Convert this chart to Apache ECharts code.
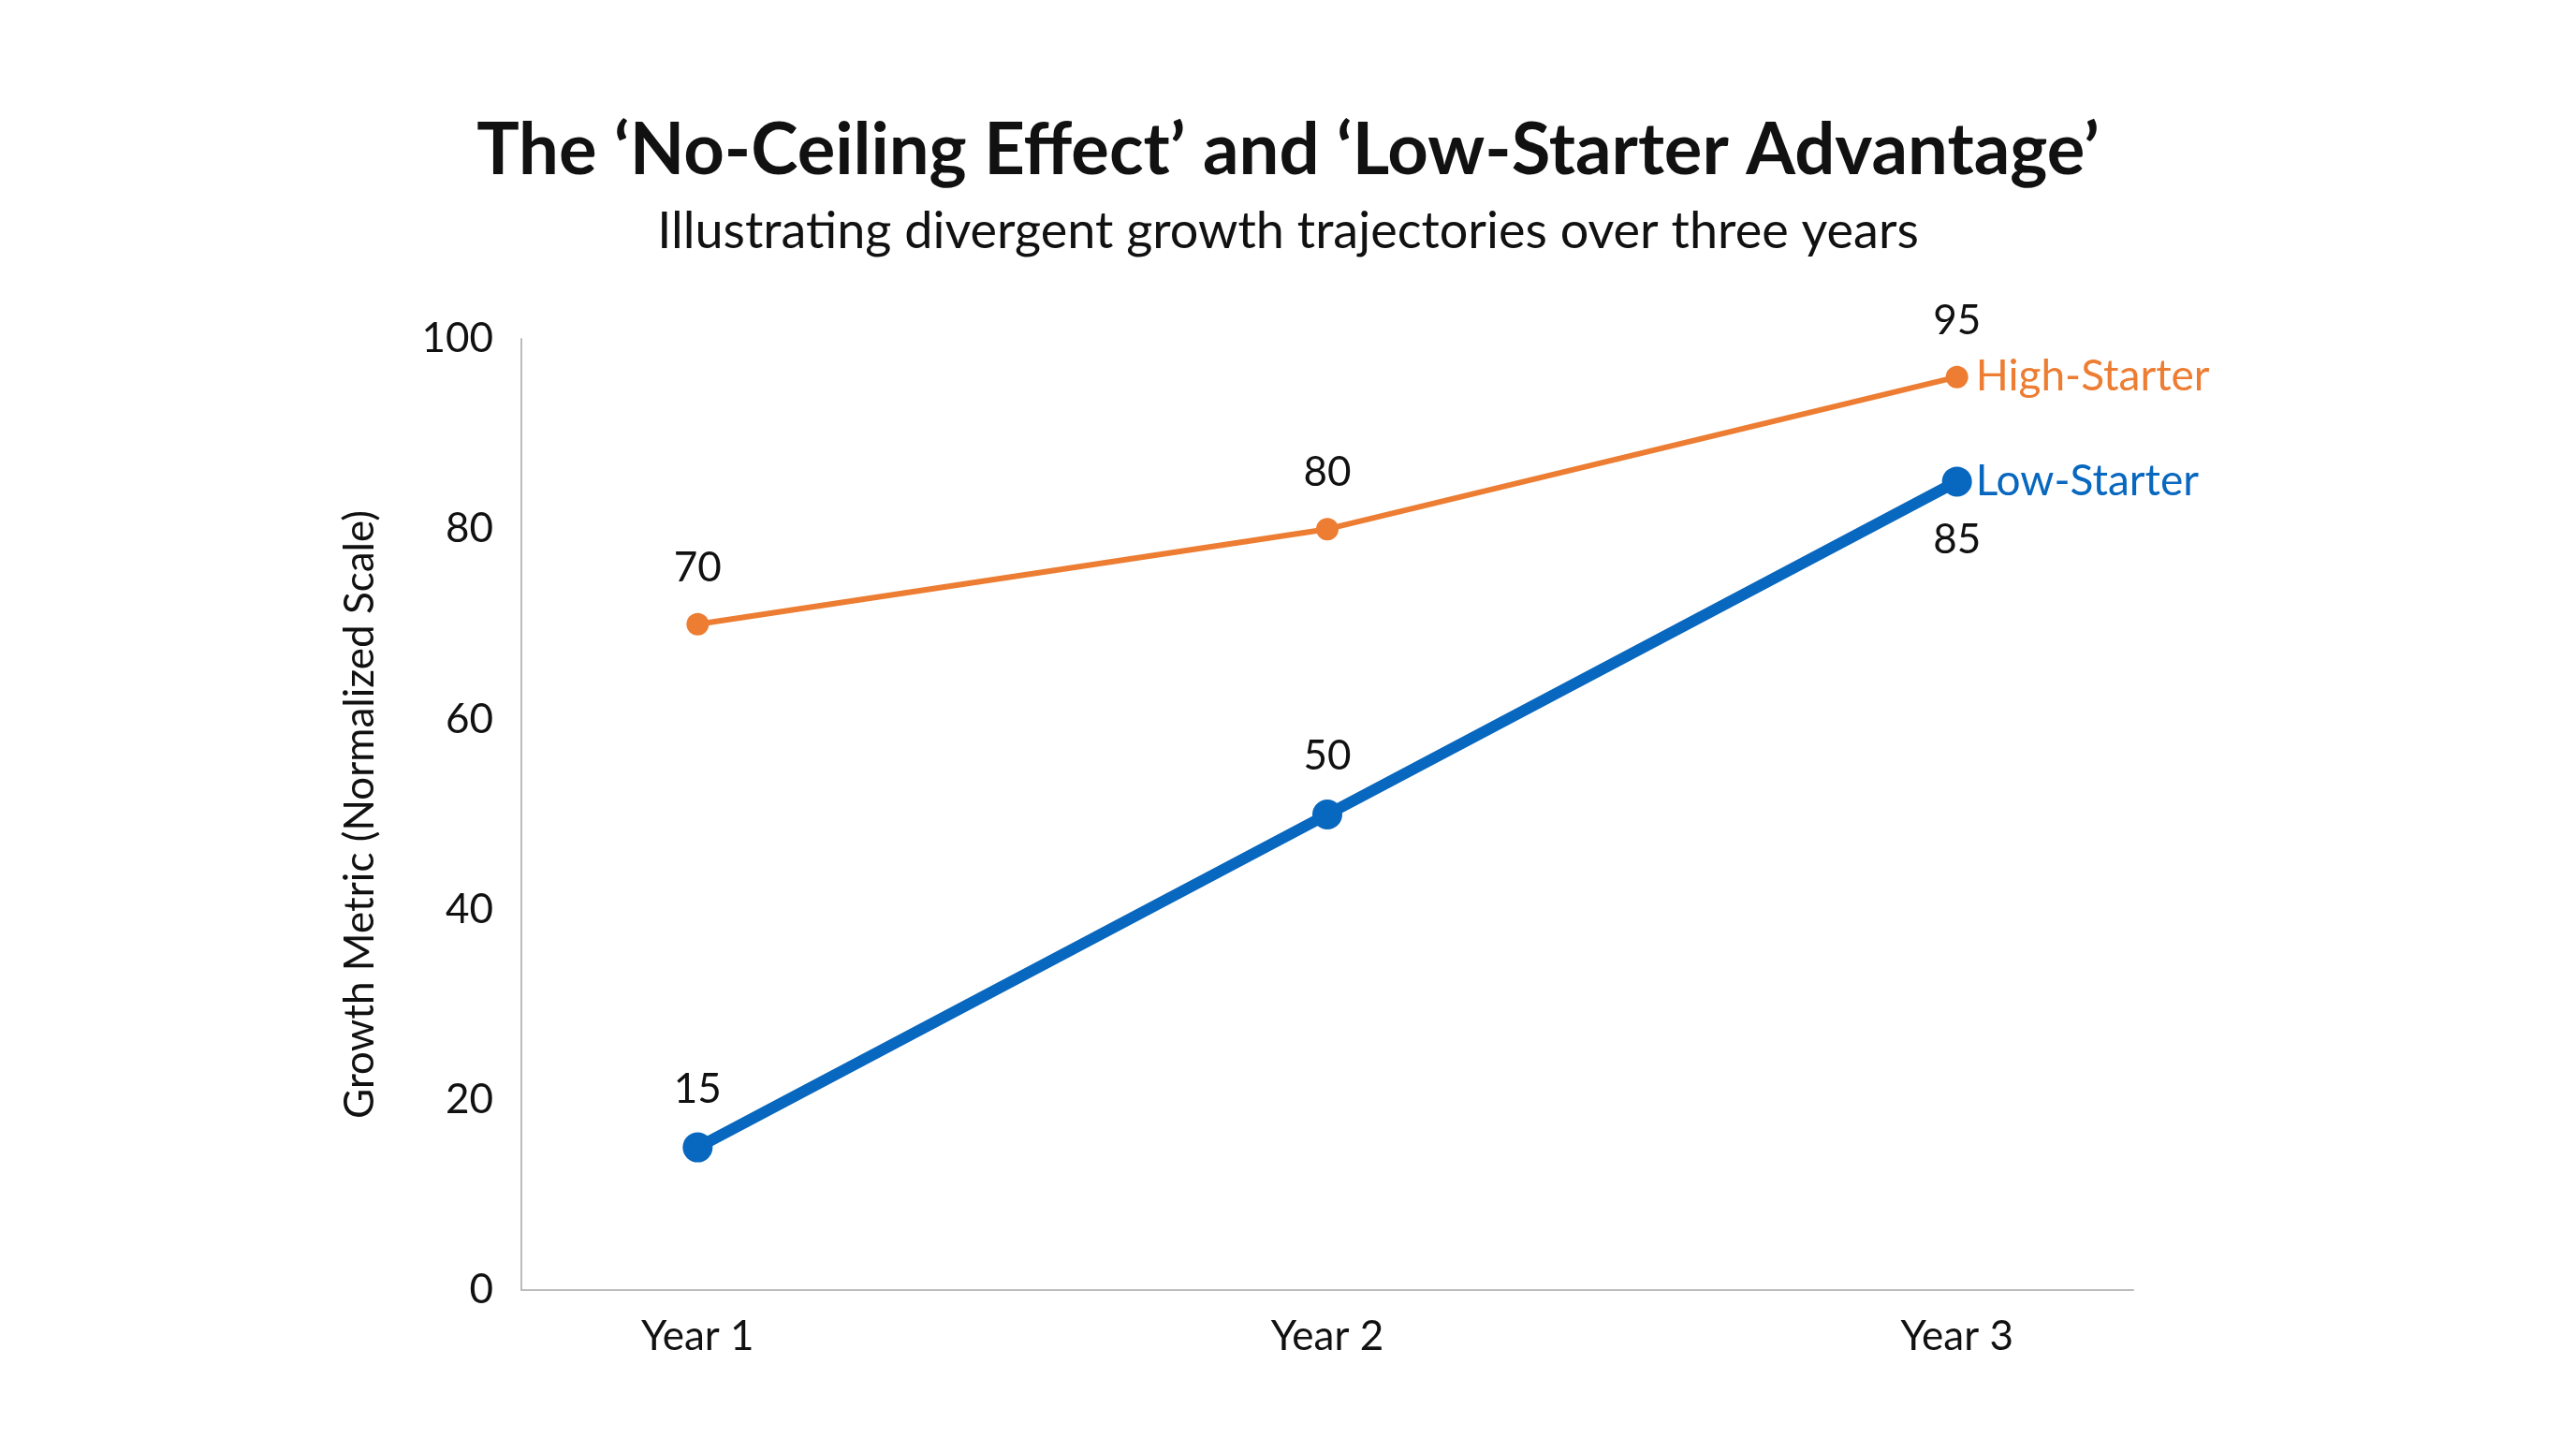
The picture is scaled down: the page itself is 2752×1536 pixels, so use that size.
<!DOCTYPE html>
<html><head><meta charset="utf-8">
<script src="https://cdn.jsdelivr.net/npm/echarts@6/dist/echarts.min.js"></script>
<style>html,body{margin:0;background:#fff}#c{width:2752px;height:1536px}</style>
</head><body><div id="c"></div>
<script>
const categories = ['Year 1', 'Year 2', 'Year 3'];
const highStarter = [70, 80, 96];
const highLabels = [70, 80, 95];
const lowStarter = [15, 50, 85];
const yTicks = [0, 20, 40, 60, 80, 100];
const FONT = 'Lato';
const chart = echarts.init(document.getElementById('c'));
chart.setOption({
  backgroundColor: '#fff',
  textStyle: { fontFamily: FONT },
  title: {
    text: 'The ‘No-Ceiling Effect’ and ‘Low-Starter Advantage’',
    subtext: 'Illustrating divergent growth trajectories over three years',
    left: 'center', top: 118, itemGap: 22,
    textStyle: { fontFamily: FONT, fontSize: 76, fontWeight: 'bold', color: '#111' },
    subtextStyle: { fontFamily: FONT, fontSize: 54, color: '#111' }
  },
  grid: { left: 557, right: 473, top: 362, bottom: 158 },
  xAxis: {
    type: 'value', min: 0.72, max: 3.28,
    splitLine: { show: false },
    axisLine: { lineStyle: { color: '#bbb', width: 2 } },
    axisTick: { show: false },
    axisLabel: { customValues: [1, 2, 3], formatter: v => categories[Math.round(v) - 1], fontSize: 44, color: '#111', margin: 28 }
  },
  yAxis: {
    type: 'value', min: 0, max: 100, interval: 20,
    name: 'Growth Metric (Normalized Scale)', nameLocation: 'middle', nameGap: 150,
    nameTextStyle: { fontSize: 44, color: '#111' },
    splitLine: { show: false },
    axisLine: { show: true, lineStyle: { color: '#bbb', width: 2 } },
    axisTick: { show: false },
    axisLabel: { fontSize: 44, color: '#111', margin: 30, formatter: v => yTicks.includes(v) ? String(v) : '' }
  },
  series: [
    {
      name: 'High-Starter', type: 'line',
      data: highStarter.map((v, i) => ({ value: [i + 1, v], label: { formatter: String(highLabels[i]) } })),
      color: '#EC7D32', lineStyle: { width: 6 }, symbol: 'circle', symbolSize: 24,
      label: { show: true, position: 'top', distance: 26, fontSize: 44, color: '#111' },
      endLabel: { show: true, formatter: '{a}', fontSize: 46, color: '#EC7D32', distance: 20 }
    },
    {
      name: 'Low-Starter', type: 'line',
      data: lowStarter.map((v, i) => ({ value: [i + 1, v], label: { position: i === 2 ? 'bottom' : 'top' } })),
      color: '#0867BE', lineStyle: { width: 12 }, symbol: 'circle', symbolSize: 32,
      label: { show: true, distance: 24, fontSize: 44, color: '#111', formatter: p => String(p.value[1]) },
      endLabel: { show: true, formatter: '{a}', fontSize: 46, color: '#0867BE', distance: 20 }
    }
  ]
});
</script></body></html>
